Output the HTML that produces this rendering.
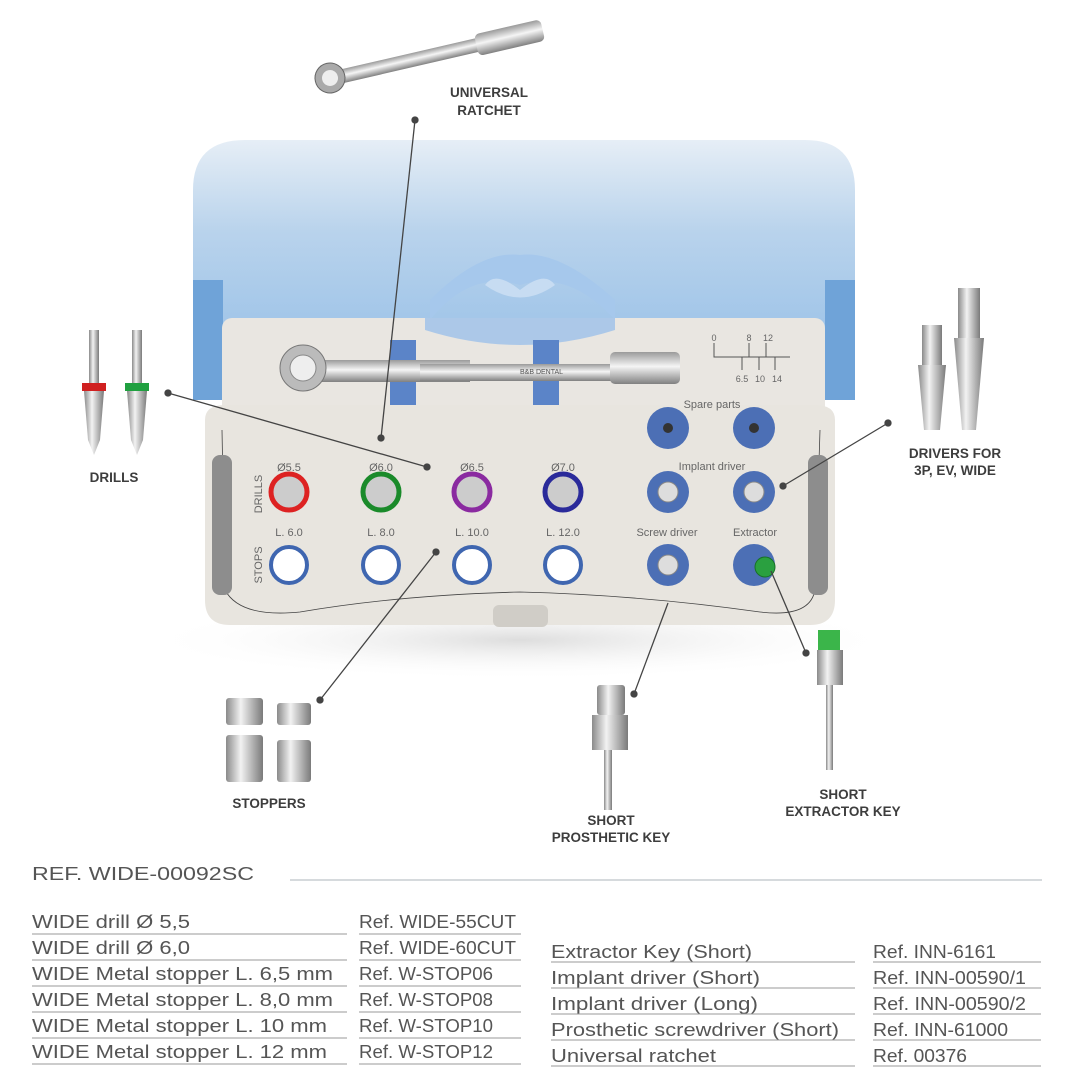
<!DOCTYPE html>
<html><head><meta charset="utf-8"><style>
html,body{margin:0;padding:0;background:#fff;}
svg{display:block;}
.lb{font-family:"Liberation Sans",sans-serif;font-weight:bold;font-size:13.5px;fill:#3d3d3d;text-anchor:middle;}
.sm{font-family:"Liberation Sans",sans-serif;font-size:11px;fill:#666;text-anchor:middle;}
.tb{font-family:"Liberation Sans",sans-serif;font-size:18px;fill:#555;}
</style></head><body>
<svg width="1081" height="1087" viewBox="0 0 1081 1087" xmlns="http://www.w3.org/2000/svg">
<defs>
<linearGradient id="lid" x1="0" y1="0" x2="0" y2="1">
<stop offset="0" stop-color="#e6eef6"/><stop offset="0.35" stop-color="#b9d3ec"/><stop offset="1" stop-color="#8fbbe6"/></linearGradient>
<linearGradient id="met" x1="0" y1="0" x2="1" y2="0">
<stop offset="0" stop-color="#8a8a8a"/><stop offset="0.4" stop-color="#f2f2f2"/><stop offset="1" stop-color="#7a7a7a"/></linearGradient>
<linearGradient id="metv" x1="0" y1="0" x2="0" y2="1">
<stop offset="0" stop-color="#9a9a9a"/><stop offset="0.45" stop-color="#f5f5f5"/><stop offset="1" stop-color="#808080"/></linearGradient>
<radialGradient id="shadow" cx="0.5" cy="0.5" r="0.5"><stop offset="0" stop-color="#ddd"/><stop offset="1" stop-color="#fff" stop-opacity="0"/></radialGradient>
</defs>
<!-- shadow -->
<ellipse cx="520" cy="640" rx="380" ry="40" fill="url(#shadow)"/>
<!-- lid -->
<path d="M193 190 Q193 140 245 140 L805 140 Q855 140 855 190 L855 400 L820 400 L820 330 L222 330 L222 400 L193 400 Z" fill="url(#lid)"/>
<rect x="193" y="280" width="30" height="120" fill="#6fa3d8"/>
<rect x="825" y="280" width="30" height="120" fill="#6fa3d8"/>
<path d="M430 320 Q470 270 520 285 Q570 270 615 320 L615 300 Q560 250 520 255 Q480 250 430 300 Z" fill="#a6c8ec"/>
<path d="M485 285 Q520 310 555 285 Q545 270 520 290 Q495 270 485 285Z" fill="#c7dcf2"/>
<!-- tray upper -->
<rect x="222" y="318" width="603" height="120" rx="10" fill="#e9e6e1"/>
<path d="M425 330 Q520 360 615 330 L615 318 L425 318Z" fill="#9cc1ea" opacity="0.8"/>
<!-- tray lower -->
<path d="M205 420 Q205 405 225 405 L815 405 Q835 405 835 420 L835 600 Q835 625 810 625 L230 625 Q205 625 205 600Z" fill="#e8e5df"/>
<path d="M222 430 L225 590 Q240 618 300 612 Q400 595 520 592 Q640 595 760 612 Q810 618 815 590 L820 430" fill="none" stroke="#444" stroke-width="0.8"/>
<rect x="212" y="455" width="20" height="140" rx="8" fill="#8d8d8d"/>
<rect x="808" y="455" width="20" height="140" rx="8" fill="#8d8d8d"/>
<rect x="493" y="605" width="55" height="22" rx="6" fill="#d0cdc7"/>
<!-- ratchet in tray -->
<rect x="390" y="340" width="26" height="65" fill="#5b84c8"/>
<rect x="533" y="340" width="26" height="65" fill="#5b84c8"/>
<rect x="310" y="360" width="160" height="22" fill="url(#metv)"/>
<rect x="420" y="364" width="210" height="17" fill="url(#metv)"/>
<rect x="610" y="352" width="70" height="32" rx="5" fill="url(#metv)"/>
<circle cx="303" cy="368" r="23" fill="#bbb" stroke="#777"/>
<circle cx="303" cy="368" r="13" fill="#eee" stroke="#888"/>
<text x="520" y="374" font-family="Liberation Sans" font-size="7" fill="#555">B&amp;B DENTAL</text>
<!-- scale -->
<g stroke="#555" stroke-width="1" fill="none">
<path d="M714 343 L714 357 L790 357 M749 343 L749 357 M766 343 L766 357 M742 357 L742 370 M759 357 L759 370 M775 357 L775 370"/></g>
<g class="sm" style="font-size:9px">
<text x="714" y="341">0</text><text x="749" y="341">8</text><text x="768" y="341">12</text>
<text x="742" y="382">6.5</text><text x="760" y="382">10</text><text x="777" y="382">14</text></g>
<text class="sm" x="712" y="408">Spare parts</text>
<text class="sm" x="712" y="470">Implant driver</text>
<text class="sm" x="667" y="536">Screw driver</text>
<text class="sm" x="755" y="536">Extractor</text>
<text class="sm" x="289" y="471">Ø5.5</text><text class="sm" x="381" y="471">Ø6.0</text>
<text class="sm" x="472" y="471">Ø6.5</text><text class="sm" x="563" y="471">Ø7.0</text>
<text class="sm" x="289" y="536">L. 6.0</text><text class="sm" x="381" y="536">L. 8.0</text>
<text class="sm" x="472" y="536">L. 10.0</text><text class="sm" x="563" y="536">L. 12.0</text>
<text class="sm" transform="translate(262,494) rotate(-90)">DRILLS</text>
<text class="sm" transform="translate(262,565) rotate(-90)">STOPS</text>
<!-- drill holes -->
<g stroke-width="5">
<circle cx="289" cy="492" r="18" fill="#ccc" stroke="#d22"/>
<circle cx="381" cy="492" r="18" fill="#ccc" stroke="#1a8a2a"/>
<circle cx="472" cy="492" r="18" fill="#ccc" stroke="#8a2aa0"/>
<circle cx="563" cy="492" r="18" fill="#ccc" stroke="#2a2a9a"/>
</g>
<g fill="#fff" stroke="#3f66b0" stroke-width="4">
<circle cx="289" cy="565" r="18"/><circle cx="381" cy="565" r="18"/>
<circle cx="472" cy="565" r="18"/><circle cx="563" cy="565" r="18"/></g>
<g fill="#4c6fb5">
<circle cx="668" cy="428" r="21"/><circle cx="754" cy="428" r="21"/>
<circle cx="668" cy="492" r="21"/><circle cx="754" cy="492" r="21"/>
<circle cx="668" cy="565" r="21"/><circle cx="754" cy="565" r="21"/></g>
<g fill="#333"><circle cx="668" cy="428" r="5"/><circle cx="754" cy="428" r="5"/></g>
<g fill="#ddd" stroke="#888"><circle cx="668" cy="492" r="10"/><circle cx="754" cy="492" r="10"/><circle cx="668" cy="565" r="10"/></g>
<circle cx="765" cy="567" r="10" fill="#2aa040" stroke="#187028"/>
<!-- top ratchet -->
<g transform="translate(330,78) rotate(-13)">
<rect x="0" y="-6" width="210" height="14" rx="4" fill="url(#metv)"/>
<rect x="150" y="-10" width="68" height="22" rx="5" fill="url(#metv)"/>
<circle cx="0" cy="0" r="15" fill="#aaa" stroke="#666"/>
<circle cx="0" cy="0" r="8" fill="#eee"/></g>
<!-- drills -->
<g>
<rect x="89" y="330" width="10" height="55" fill="url(#met)"/>
<rect x="82" y="383" width="24" height="8" fill="#d02020"/>
<path d="M84 391 L104 391 L100 440 L94 455 L88 440Z" fill="url(#met)"/>
<rect x="132" y="330" width="10" height="55" fill="url(#met)"/>
<rect x="125" y="383" width="24" height="8" fill="#20a040"/>
<path d="M127 391 L147 391 L143 440 L137 455 L131 440Z" fill="url(#met)"/>
</g>
<!-- drivers -->
<rect x="922" y="325" width="20" height="40" fill="url(#met)"/>
<path d="M918 365 L946 365 L940 430 L924 430Z" fill="url(#met)"/>
<rect x="958" y="288" width="22" height="50" fill="url(#met)"/>
<path d="M954 338 L984 338 L976 430 L962 430Z" fill="url(#met)"/>
<!-- stoppers -->
<g fill="url(#met)">
<rect x="226" y="698" width="37" height="27" rx="3"/><rect x="277" y="703" width="34" height="22" rx="3"/>
<rect x="226" y="735" width="37" height="47" rx="3"/><rect x="277" y="740" width="34" height="42" rx="3"/></g>
<!-- prosthetic key -->
<rect x="597" y="685" width="28" height="30" rx="3" fill="url(#met)"/>
<rect x="592" y="715" width="36" height="35" fill="url(#met)"/>
<rect x="604" y="750" width="8" height="60" fill="url(#met)"/>
<!-- extractor key -->
<rect x="818" y="630" width="22" height="20" fill="#3bb54a"/>
<rect x="817" y="650" width="26" height="35" fill="url(#met)"/>
<rect x="826" y="685" width="7" height="85" fill="url(#met)"/>
<!-- callouts -->
<g stroke="#444" stroke-width="1.3" fill="#444">
<line x1="415" y1="120" x2="381" y2="438"/><circle cx="415" cy="120" r="3"/><circle cx="381" cy="438" r="3"/>
<line x1="168" y1="393" x2="427" y2="467"/><circle cx="168" cy="393" r="3"/><circle cx="427" cy="467" r="3"/>
<line x1="320" y1="700" x2="436" y2="552"/><circle cx="320" cy="700" r="3"/><circle cx="436" cy="552" r="3"/>
<line x1="634" y1="694" x2="668" y2="603"/><circle cx="634" cy="694" r="3"/>
<line x1="806" y1="653" x2="771" y2="571"/><circle cx="806" cy="653" r="3"/>
<line x1="888" y1="423" x2="783" y2="486"/><circle cx="888" cy="423" r="3"/><circle cx="783" cy="486" r="3"/>
</g>
<text class="lb" x="489" y="97">UNIVERSAL</text><text class="lb" x="489" y="115">RATCHET</text>
<text class="lb" x="114" y="482">DRILLS</text>
<text class="lb" x="955" y="458">DRIVERS FOR</text><text class="lb" x="955" y="475">3P, EV, WIDE</text>
<text class="lb" x="269" y="808">STOPPERS</text>
<text class="lb" x="611" y="825">SHORT</text><text class="lb" x="611" y="842">PROSTHETIC KEY</text>
<text class="lb" x="843" y="799">SHORT</text><text class="lb" x="843" y="816">EXTRACTOR KEY</text>
<!-- table -->
<text class="tb" x="32" y="880" font-size="22" textLength="222" lengthAdjust="spacingAndGlyphs">REF. WIDE-00092SC</text>
<line x1="290" y1="880" x2="1042" y2="880" stroke="#c8ced2" stroke-width="1.5"/>
<g class="tb">
<text x="32" y="928" textLength="158" lengthAdjust="spacingAndGlyphs">WIDE drill Ø 5,5</text>
<text x="32" y="954" textLength="158" lengthAdjust="spacingAndGlyphs">WIDE drill Ø 6,0</text>
<text x="32" y="980" textLength="301" lengthAdjust="spacingAndGlyphs">WIDE Metal stopper L. 6,5 mm</text>
<text x="32" y="1006" textLength="301" lengthAdjust="spacingAndGlyphs">WIDE Metal stopper L. 8,0 mm</text>
<text x="32" y="1032" textLength="295" lengthAdjust="spacingAndGlyphs">WIDE Metal stopper L. 10 mm</text>
<text x="32" y="1058" textLength="295" lengthAdjust="spacingAndGlyphs">WIDE Metal stopper L. 12 mm</text>
<text x="359" y="928" textLength="157" lengthAdjust="spacingAndGlyphs">Ref. WIDE-55CUT</text>
<text x="359" y="954" textLength="157" lengthAdjust="spacingAndGlyphs">Ref. WIDE-60CUT</text>
<text x="359" y="980" textLength="134" lengthAdjust="spacingAndGlyphs">Ref. W-STOP06</text>
<text x="359" y="1006" textLength="134" lengthAdjust="spacingAndGlyphs">Ref. W-STOP08</text>
<text x="359" y="1032" textLength="134" lengthAdjust="spacingAndGlyphs">Ref. W-STOP10</text>
<text x="359" y="1058" textLength="134" lengthAdjust="spacingAndGlyphs">Ref. W-STOP12</text>
<text x="551" y="958" textLength="201" lengthAdjust="spacingAndGlyphs">Extractor Key (Short)</text>
<text x="551" y="984" textLength="209" lengthAdjust="spacingAndGlyphs">Implant driver (Short)</text>
<text x="551" y="1010" textLength="207" lengthAdjust="spacingAndGlyphs">Implant driver (Long)</text>
<text x="551" y="1036" textLength="288" lengthAdjust="spacingAndGlyphs">Prosthetic screwdriver (Short)</text>
<text x="551" y="1062" textLength="165" lengthAdjust="spacingAndGlyphs">Universal ratchet</text>
<text x="873" y="958" textLength="123" lengthAdjust="spacingAndGlyphs">Ref. INN-6161</text>
<text x="873" y="984" textLength="153" lengthAdjust="spacingAndGlyphs">Ref. INN-00590/1</text>
<text x="873" y="1010" textLength="153" lengthAdjust="spacingAndGlyphs">Ref. INN-00590/2</text>
<text x="873" y="1036" textLength="135" lengthAdjust="spacingAndGlyphs">Ref. INN-61000</text>
<text x="873" y="1062" textLength="94" lengthAdjust="spacingAndGlyphs">Ref. 00376</text>
</g>
<g stroke="#999" stroke-width="1">
<path d="M32 934H347M32 960H347M32 986H347M32 1012H347M32 1038H347M32 1064H347"/>
<path d="M359 934H521M359 960H521M359 986H521M359 1012H521M359 1038H521M359 1064H521"/>
<path d="M551 962H855M551 988H855M551 1014H855M551 1040H855M551 1066H855"/>
<path d="M873 962H1041M873 988H1041M873 1014H1041M873 1040H1041M873 1066H1041"/>
</g>
</svg>
</body></html>
